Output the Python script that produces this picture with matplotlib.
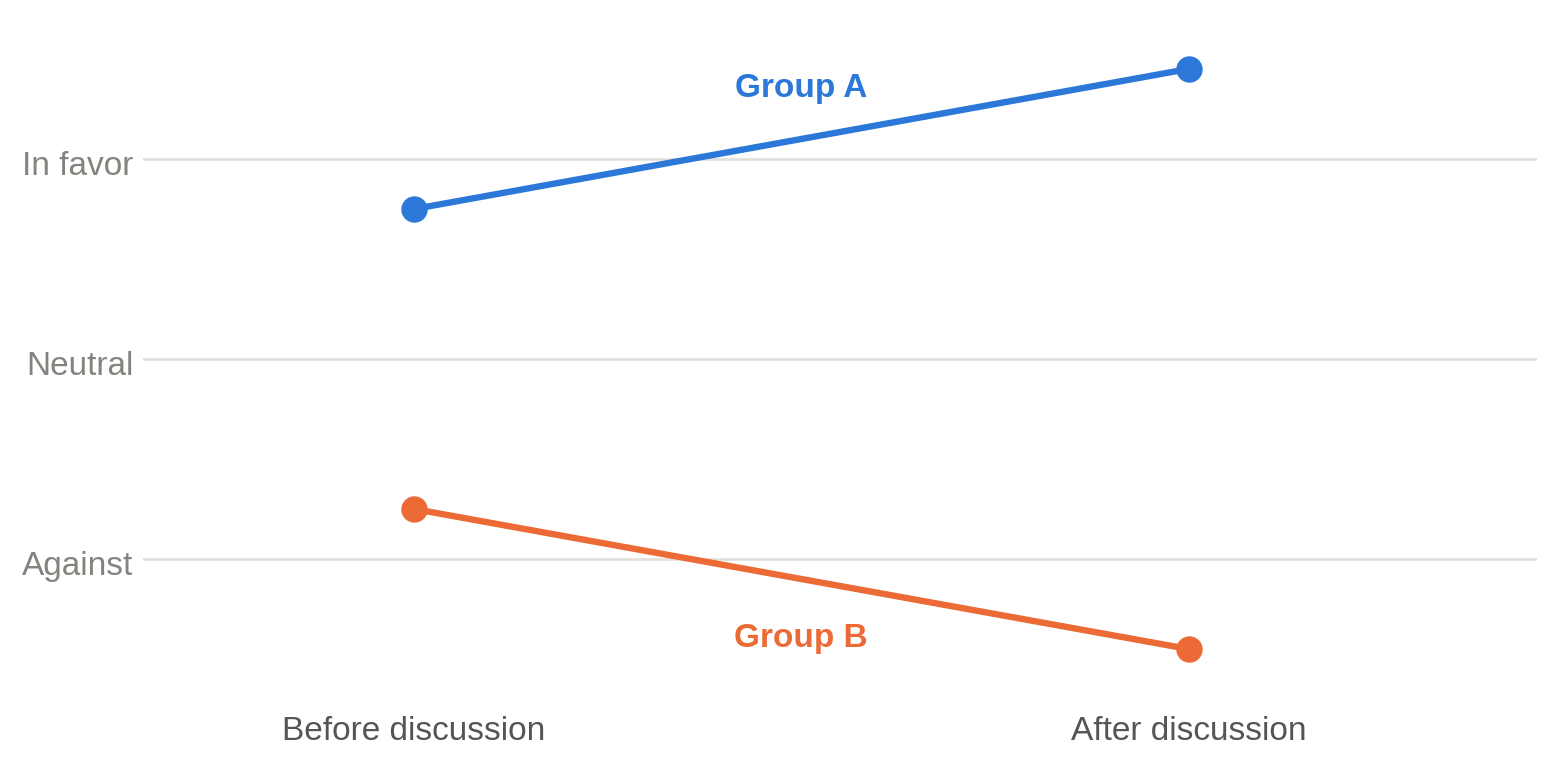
import matplotlib.pyplot as plt
from matplotlib.transforms import ScaledTranslation

# data
stages = ["Before discussion", "After discussion"]
groups = ["Group A", "Group B"]
group_a = [0.75, 1.45]
group_b = [-0.75, -1.45]
y_ticks = [-1, 0, 1]
y_labels = ["Against", "Neutral", "In favor"]

blue = "#2b78d8"
orange = "#ec6a35"

plt.rcParams['font.family'] = ['Liberation Sans', 'DejaVu Sans']

fig = plt.figure(figsize=(15.57, 7.66), dpi=100)
ax = fig.add_axes([143 / 1557, 57 / 766, 1394 / 1557, 700 / 766])

x = list(range(len(stages)))
for vals, col in [(group_a, blue), (group_b, orange)]:
    ax.plot(x, vals, color=col, lw=4.6, marker='o', ms=18,
            solid_capstyle='round', zorder=3)

ax.text(0.5, 1.355, groups[0], color=blue, fontsize=24, fontweight='bold',
        ha='center', va='center')
ax.text(0.5, -1.395, groups[1], color=orange, fontsize=24, fontweight='bold',
        ha='center', va='center')

ax.set_xlim(-0.35, 1.45)
ax.set_ylim(-1.75, 1.75)
ax.set_xticks(x)
ax.set_xticklabels(stages, fontsize=24, color='#555555')
ax.set_yticks(y_ticks)
ax.set_yticklabels(y_labels, fontsize=24, color='#85837d')
ax.tick_params(axis='x', length=0, pad=5)
ax.tick_params(axis='y', length=0, pad=7)
# nudge y labels slightly down like the reference
shift = ScaledTranslation(0, -4 / 100, fig.dpi_scale_trans)
for lab in ax.get_yticklabels():
    lab.set_transform(lab.get_transform() + shift)
ax.grid(axis='y', color='#e0dfd8', lw=1.8)
ax.set_axisbelow(True)
for s in ax.spines.values():
    s.set_visible(False)

fig.savefig("out.png", dpi=100)
